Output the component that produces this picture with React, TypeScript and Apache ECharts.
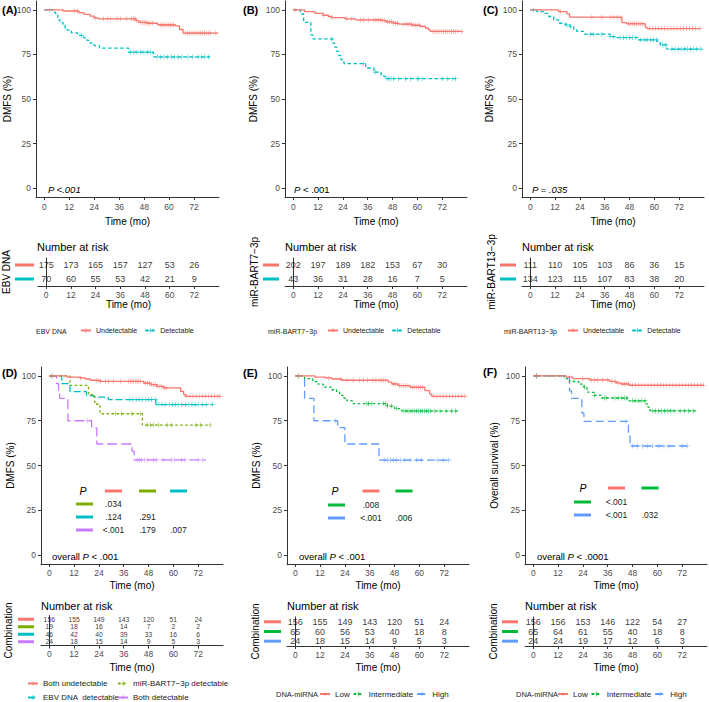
import React, { useEffect, useRef } from "react";
import * as echarts from "echarts";

const FONT = '"Liberation Sans", Arial, Helvetica, sans-serif';
const RED = "#F8766D", TEAL = "#00BFC4", OLIVE = "#7CAE00", PURPLE = "#C77CFF", GREEN = "#00BA38", BLUE = "#619CFF";
const PLUS = "path://M-0.6,-5H0.6V-0.6H5V0.6H0.6V5H-0.6V0.6H-5V-0.6H-0.6Z";

const timeTicks = [0, 12, 24, 36, 48, 60, 72];
const survTicks = [0, 25, 50, 75, 100];

// ---- Panel A: EBV DNA ----
const aUndet = [[0,100],[9,99.4],[16.5,98.5],[19,97.5],[22,96.5],[24,95.5],[26,95],[44,94],[45.5,93],[49.5,92.5],[54.5,91.6],[63,91],[65,89],[66.7,87],[83.5,87]];
const aUndetCens = [14.6,16,24.4,28.5,30.4,31.7,35,36.6,39.5,42,42.8,43.6,44.4,46.3,47.1,48,48.8,49.6,50.4,51.2,52,55.8,56.6,57.4,58.2,59,59.8,60.6,61.4,62.2,68,69,70,71,72,73,74,75,76,77,78,79,80,82.5];
const aDet = [[0,100],[4.5,98.6],[5.5,97.1],[6.5,95.7],[7,94.3],[7.5,92.9],[9,91.4],[10,90],[11,88.6],[13,87.1],[16,85.7],[19,84.3],[20.5,82.9],[22,81.4],[24,80],[26.5,78.6],[40.5,76.3],[52.5,73.6],[79.7,73.6]];
const aDetCens = [2.4,17.9,41.5,43,44.6,46.3,47.9,49.5,51.2,54.5,56,57.6,59.3,61,62.6,64.3,66,69,71.4,74,75.6,77.2,78.9];
const riskAUndet = [175,173,165,157,127,53,26];
const riskADet = [70,60,55,53,42,21,9];

// ---- Panel B: miR-BART7-3p ----
const bUndet = [[0,100],[5.5,99],[10.5,98],[14.5,97],[17,96.3],[18.6,95.7],[25,95],[30,94.4],[43,94],[45,93.3],[48.5,92.5],[51,92],[57.4,91.4],[61.5,90.7],[64,89.7],[65.5,88.8],[66.3,87.9],[81.7,87.9]];
const bUndetCens = [0.8,14.6,18.6,25.9,28.3,32.4,34,36.4,39,40,41,42,43,44,45.5,46.5,47.5,48.5,49.5,50.5,53.5,55,56,57,58,59,60,61,67.5,68.5,69.5,70.5,71.5,72.5,73.5,74.5,75.5,76.5,77.5,78.5,79.5,81.5];
const bDet = [[0,100],[3.5,97.7],[5,93],[8.5,86],[9.5,83.7],[19,81.4],[20,79.1],[21,76.7],[22,74.4],[23,72.1],[24.5,69.8],[35,67.4],[39,65.1],[42.5,62.8],[44.5,61.4],[79.5,61.4]];
const bDetCens = [18.6,34,39.6,45.3,46.3,47.3,48.5,51,54.2,56.6,59.9,60.7,62.3,72,74.4,76.8,78.5];
const riskBUndet = [202,197,189,182,153,67,30];
const riskBDet = [43,36,31,28,16,7,5];

// ---- Panel C: miR-BART13-3p ----
const cUndet = [[0,100],[13.7,99],[17.7,97.8],[19,95.9],[44.3,92.9],[46.7,92.2],[55.6,90.3],[56.4,89.5],[82,89.5]];
const cUndetCens = [14.5,29.8,34.6,39,40.5,42,43.5,47.5,48.5,49.5,50.5,51.5,52.5,53.5,54.5,57.5,59,60.5,62,63.5,65,66.5,68,69.5,71,72.5,74,75.5,77,78.5,80,82];
const cDet = [[0,100],[3.2,99],[6.4,98],[8.9,96.3],[11.3,94.4],[13.7,92.5],[16.9,91.6],[19.3,90.7],[21,89.2],[22.5,87.9],[25.8,86.4],[38.6,85],[41.9,84.5],[52.3,83.2],[61.2,82.3],[62.8,80.4],[66,78],[82.9,78]];
const cDetCens = [1.6,17.7,19.3,29,30.6,34.6,38.6,40.3,43.5,45,46.5,48,49.5,51,53.5,55,56.5,58,59.5,61,64,65.5,68.5,70,71.5,73,74.5,76,77.5,79,80.5,82.5];
const riskCUndet = [111,110,105,103,86,36,15];
const riskCDet = [134,123,115,107,83,38,20];

// ---- Panel D: Combination ----
const dBothUnd = [[0,100],[8.6,99.4],[15,98.9],[17.4,98.3],[19.9,97.6],[24.7,97],[45.7,96],[49,95.2],[52,94.2],[55.4,93.3],[63.5,91.4],[65,89.6],[66,88.6],[82.9,88.6]];
const dBothUndCens = [1.3,15,23,24.7,27.1,28.7,31.1,34.4,38.4,39.2,40,40.8,41.6,42.4,43.2,44,46.5,47.5,48.5,49.5,50.5,51.5,52.5,53.5,54.5,55.5,56.5,66.5,68,69.5,71,72.5,74,75.5,77,78.5,80,81.5,82.5];
const dMiR = [[0,100],[10,94.7],[19,89.5],[22,84.2],[24.5,78.9],[45,72.6],[77.8,72.6]];
const dMiRCens = [32,35,40,44,47.5,49,50.5,53,57,59,71,73,77.8];
const dEbv = [[0,100],[6,95.7],[10,91.3],[18,89.1],[21.5,88.2],[28.5,86.8],[51.5,84],[78.8,84]];
const dEbvCens = [1.3,39,40.5,42,43.5,45,46.5,48,49.5,51.2,53,54.5,56,58,59.5,61,62.5,64,66,67.5,69,70.5,72,74,76,78.8];
const dBothDet = [[0,100],[3.5,95.8],[4.5,91.7],[5,87.5],[9,75],[20.5,71],[23,62],[40,58],[41,53.1],[75.6,53.1]];
const dBothDetCens = [18.6,42.5,43.5,44.5,46,47.5,50.4,52,55,59,60.6,64,65.6,72,74];
const riskDBothUnd = [156,155,149,143,120,51,24];
const riskDMiR = [19,18,16,14,7,2,2];
const riskDEbv = [46,42,40,39,33,16,6];
const riskDBothDet = [24,18,15,14,9,5,3];

// ---- Panel E: DNA-miRNA (DMFS) ----
const eLow = [[0,100],[9.6,99.4],[14.5,98.9],[17.7,98.3],[22.5,97.6],[45,96.5],[46.7,95.5],[49.8,94.6],[55.5,93.7],[62.7,91.8],[65,89.9],[66,88.6],[82,88.6]];
const eLowCens = [1.5,16,22,25,28,31,33,35,37.5,39,40.5,41.5,42.5,43.5,47.5,48.5,50.5,51.5,52.5,53.5,54.5,56.5,57.5,58.5,59.5,60.5,61.5,67,68.5,70,71.5,73,74.5,76,77.5,79,80.5,82];
const eInt = [[0,100],[4.5,98.5],[8.5,96.9],[11,95.4],[13.5,93.8],[17.5,92.3],[20,90.8],[21.5,89.2],[23.5,87.7],[25,86.2],[27.5,84.6],[44.5,83.2],[48,81.8],[51.5,80.4],[78.5,80.4]];
const eIntCens = [1.6,34.6,35.5,37,42.6,43.5,44.5,46.6,49,52.5,53.5,54.5,55.5,56.5,57.5,58.5,59.5,60.5,61.5,62.5,63.5,64.5,65.5,67.5,70,73,75.5,77.5];
const eHigh = [[0,100],[4.5,87.5],[9,75],[20.5,71.1],[24,62],[40.5,53],[75.5,53]];
const eHighCens = [19.3,43,44.5,46,47.5,49,51,53,55.5,58.5,61,69,71.5,74];
const riskELow = [156,155,149,143,120,51,24];
const riskEInt = [65,60,56,53,40,18,8];
const riskEHigh = [24,18,15,14,9,5,3];

// ---- Panel F: DNA-miRNA (OS) ----
const fLow = [[0,100],[16,99.3],[19.2,98.5],[27.2,97.8],[36.8,97],[40,96.1],[42.4,95.5],[46.4,94.8],[82.4,94.8]];
const fLowCens = [1.6,24,28,29.6,31.2,33.6,36,38,39.5,41,43,44,45,46,48,49.5,51,52.5,54,55.5,57,58.5,60,61.5,63,64.5,66,67.5,69,70.5,72,73.5,75,76.5,78,79.5,81,82.4];
const fInt = [[0,100],[15,98.5],[17.5,96.9],[22,95.4],[24.5,93.8],[26,92.3],[26.5,90.8],[29.5,89.2],[33,87.7],[45.5,86.1],[54.5,84.4],[55.5,82.5],[56.5,80.5],[78.4,80.5]];
const fIntCens = [1.6,24.8,29.6,34.4,35.2,39.5,41,42.5,44,45,48,49.5,51,52.5,54,57.5,59,60.5,62,63.5,65,66.5,68,71,73,75,77.5];
const fHigh = [[0,100],[17.5,91.7],[18.5,87.5],[23.5,79.2],[24.5,74.6],[46,66.5],[46.8,60.9],[75.2,60.9]];
const fHighCens = [1.6,44.8,48,50.4,52.8,55.2,57.6,60.8,63.2,65.6,72,74.4];
const riskFLow = [156,156,153,146,122,54,27];
const riskFInt = [65,64,61,55,40,18,8];
const riskFHigh = [24,24,19,17,12,6,3];

// ---- P-value tables ----
const pTableD = [[".034"], [".124", ".291"], ["<.001", ".179", ".007"]];
const pTableE = [[".008"], ["<.001", ".006"]];
const pTableF = [["<.001"], ["<.001", ".032"]];

type Group = { name: string; color: string; dash: any; curve: number[][]; censor: number[]; risk: number[] };

const panels: any[] = [
  { tag: "(A)", yTitle: "DMFS (%)", stratum: "EBV DNA", pText: "{i|P <.001}", groups: [
    { name: "Undetectable", color: RED, dash: "solid", curve: aUndet, censor: aUndetCens, risk: riskAUndet },
    { name: "Detectable", color: TEAL, dash: [3.5, 2.5], curve: aDet, censor: aDetCens, risk: riskADet } ] },
  { tag: "(B)", yTitle: "DMFS (%)", stratum: "miR-BART7\u22123p", pText: "{i|P} < .001", groups: [
    { name: "Undetectable", color: RED, dash: "solid", curve: bUndet, censor: bUndetCens, risk: riskBUndet },
    { name: "Detectable", color: TEAL, dash: [3.5, 2.5], curve: bDet, censor: bDetCens, risk: riskBDet } ] },
  { tag: "(C)", yTitle: "DMFS (%)", stratum: "miR-BART13\u22123p", pText: "{i|P = .035}", groups: [
    { name: "Undetectable", color: RED, dash: "solid", curve: cUndet, censor: cUndetCens, risk: riskCUndet },
    { name: "Detectable", color: TEAL, dash: [3.5, 2.5], curve: cDet, censor: cDetCens, risk: riskCDet } ] },
  { tag: "(D)", yTitle: "DMFS (%)", stratum: "Combination", pText: "overall {i|P} < .001", table: pTableD, groups: [
    { name: "Both undetectable", color: RED, dash: "solid", curve: dBothUnd, censor: dBothUndCens, risk: riskDBothUnd },
    { name: "miR-BART7\u22123p detectable", color: OLIVE, dash: [2.5, 2.5], curve: dMiR, censor: dMiRCens, risk: riskDMiR },
    { name: "EBV DNA  detectable", color: TEAL, dash: [7, 3], curve: dEbv, censor: dEbvCens, risk: riskDEbv },
    { name: "Both detectable", color: PURPLE, dash: [10, 4], curve: dBothDet, censor: dBothDetCens, risk: riskDBothDet } ] },
  { tag: "(E)", yTitle: "DMFS (%)", stratum: "Combination", pText: "overall {i|P} < .001", table: pTableE, groups: [
    { name: "Low", color: RED, dash: "solid", curve: eLow, censor: eLowCens, risk: riskELow },
    { name: "Intermediate", color: GREEN, dash: [2.5, 2.5], curve: eInt, censor: eIntCens, risk: riskEInt },
    { name: "High", color: BLUE, dash: [8, 4], curve: eHigh, censor: eHighCens, risk: riskEHigh } ] },
  { tag: "(F)", yTitle: "Overall survival (%)", stratum: "Combination", pText: "overall {i|P} < .0001", table: pTableF, groups: [
    { name: "Low", color: RED, dash: "solid", curve: fLow, censor: fLowCens, risk: riskFLow },
    { name: "Intermediate", color: GREEN, dash: [2.5, 2.5], curve: fInt, censor: fIntCens, risk: riskFInt },
    { name: "High", color: BLUE, dash: [8, 4], curve: fHigh, censor: fHighCens, risk: riskFHigh } ] },
];

// layout (pixels)
const layout = [
  { left: 36, top: 1, w: 183, h: 196, yGap: 24, xGap: 19, xM: 5, rTop: 258, rH: 28, rGap: 27, rxGap: 13, rxM: 4, barW: 19, barM: 4, rFont: 9, rLH: 12, tagX: 2, tagY: 10, nX: 37, nY: 247, pX: 48, pY: 189 },
  { left: 285, top: 1, w: 182, h: 196, yGap: 27, xGap: 19, xM: 5, rTop: 258, rH: 28, rGap: 26, rxGap: 13, rxM: 4, barW: 16, barM: 6, rFont: 9, rLH: 12, tagX: 243, tagY: 10, nX: 285, nY: 247, pX: 294, pY: 189 },
  { left: 522, top: 1, w: 182, h: 196, yGap: 28, xGap: 19, xM: 5, rTop: 258, rH: 28, rGap: 24, rxGap: 13, rxM: 4, barW: 16, barM: 6, rFont: 9, rLH: 12, tagX: 483, tagY: 10, nX: 522, nY: 247, pX: 532, pY: 189 },
  { left: 41, top: 367, w: 182, h: 197, yGap: 26, xGap: 16, xM: 4.5, rTop: 615.5, rH: 30, rGap: 28, rxGap: 16.5, rxM: 4, barW: 16, barM: 7, rFont: 6.8, rLH: 7, tagX: 2, tagY: 373, nX: 41, nY: 606, pX: 52, pY: 556,
    tbl: { pX: 83, hY: 491, hXs: [113.5, 147.5, 178.5], rX: 84.5, rYs: [504, 517, 530] } },
  { left: 287, top: 367, w: 182, h: 197, yGap: 26, xGap: 16, xM: 4.5, rTop: 617, rH: 29, rGap: 27, rxGap: 16, rxM: 4, barW: 17, barM: 6, rFont: 9, rLH: 9.5, tagX: 243, tagY: 373, nX: 287, nY: 606, pX: 299, pY: 556,
    tbl: { pX: 335, hY: 491, hXs: [371, 404], rX: 336.5, rYs: [505, 518] } },
  { left: 525, top: 367, w: 182, h: 197, yGap: 26, xGap: 16, xM: 4.5, rTop: 617, rH: 29, rGap: 25, rxGap: 16, rxM: 4, barW: 16, barM: 7, rFont: 9, rLH: 9.5, tagX: 483, tagY: 372, nX: 525, nY: 606, pX: 537, pY: 556,
    tbl: { pX: 583, hY: 488, hXs: [616.5, 650], rX: 582.5, rYs: [502, 515] } },
];

function survAt(curve: number[][], t: number) {
  let v = curve[0][1];
  for (const p of curve) { if (p[0] <= t) v = p[1]; else break; }
  return v;
}

const AXIS_COLOR = "#333333";
const TICK_TEXT = "#4d4d4d";

function txt(x: number, y: number, text: string, o: any = {}) {
  const size = o.size || 10;
  return {
    type: "text", x, y, silent: true, z: 100,
    style: {
      text, fill: o.fill || "#1a1a1a", fontSize: size, fontFamily: FONT,
      fontWeight: o.weight || "normal", fontStyle: o.italic ? "italic" : "normal",
      align: o.align || "left", textAlign: o.align || "left",
      verticalAlign: "middle", textVerticalAlign: "middle",
      rich: o.rich,
    },
  };
}
function dash(x1: number, x2: number, y: number, color: string) {
  return { type: "line", silent: true, z: 100, shape: { x1, y1: y, x2, y2: y }, style: { stroke: color, lineWidth: 3 } };
}

function buildOption() {
  const grid: any[] = [], xAxis: any[] = [], yAxis: any[] = [], series: any[] = [], graphic: any[] = [];
  const n = panels.length;
  panels.forEach((p, i) => {
    const L: any = layout[i];
    grid[i] = { left: L.left, top: L.top, width: L.w, height: L.h };
    grid[i + n] = { left: L.left, top: L.rTop, width: L.w, height: L.rH };
    const xBase = (gi: number, margin: number, gap: number) => ({
      gridIndex: gi, type: "value", min: -4, max: 84,
      axisLine: { show: true, onZero: false, lineStyle: { color: AXIS_COLOR, width: 1 } },
      axisTick: { show: true, length: 3, customValues: timeTicks, lineStyle: { color: AXIS_COLOR } },
      axisLabel: { customValues: timeTicks, fontSize: 8.5, color: TICK_TEXT, margin, fontFamily: FONT },
      splitLine: { show: false },
      name: "Time (mo)", nameLocation: "middle", nameGap: gap,
      nameTextStyle: { fontSize: 10, color: "#000", fontFamily: FONT },
    });
    xAxis[i] = xBase(i, L.xM, L.xGap);
    xAxis[i + n] = xBase(i + n, L.rxM, L.rxGap);
    yAxis[i] = {
      gridIndex: i, type: "value", min: -5, max: 105,
      axisLine: { show: true, onZero: false, lineStyle: { color: AXIS_COLOR, width: 1 } },
      axisTick: { show: true, length: 3, customValues: survTicks, lineStyle: { color: AXIS_COLOR } },
      axisLabel: { customValues: survTicks, fontSize: 8.5, color: TICK_TEXT, margin: 5, fontFamily: FONT },
      splitLine: { show: false },
      name: p.yTitle, nameLocation: "middle", nameGap: L.yGap,
      nameTextStyle: { fontSize: 10, color: "#000", fontFamily: FONT },
    };
    const rich: any = {};
    p.groups.forEach((g: Group, k: number) => {
      rich["b" + k] = { backgroundColor: g.color, width: L.barW, height: 3, lineHeight: 3, fontSize: 1 };
    });
    const names = p.groups.map((g: Group) => g.name);
    yAxis[i + n] = {
      gridIndex: i + n, type: "category", data: names, inverse: true,
      axisLine: { show: true, lineStyle: { color: AXIS_COLOR, width: 1 } },
      axisTick: { show: false },
      axisLabel: { interval: 0, margin: L.barM, formatter: (v: string) => `{b${names.indexOf(v)}| }`, rich },
      splitLine: { show: false },
      name: p.stratum, nameLocation: "middle", nameGap: L.rGap,
      nameTextStyle: { fontSize: 10, color: "#000", fontFamily: FONT },
    };

    p.groups.forEach((g: Group, k: number) => {
      series.push({
        type: "line", name: g.name, xAxisIndex: i, yAxisIndex: i, data: g.curve, step: "end",
        showSymbol: false, symbol: PLUS, symbolSize: 6, silent: true, z: 5 - k,
        lineStyle: { color: g.color, width: 1.3, type: g.dash },
        itemStyle: { color: g.color },
      });
      series.push({
        type: "scatter", name: `${p.tag}-cens-${k}`, xAxisIndex: i, yAxisIndex: i,
        data: g.censor.map((t) => [t, survAt(g.curve, t)]),
        symbol: PLUS, symbolSize: 5, silent: true, z: 5 - k,
        itemStyle: { color: g.color },
      });
      series.push({
        type: "scatter", name: `${p.tag}-risk-${k}`, xAxisIndex: i + n, yAxisIndex: i + n,
        data: g.risk.map((v, j) => [timeTicks[j], g.name, v]),
        symbol: "circle", symbolSize: 1, silent: true,
        itemStyle: { color: "rgba(0,0,0,0)" },
        label: { show: true, position: "inside", formatter: (q: any) => String(q.value[2]), fontSize: L.rFont, lineHeight: L.rLH, color: "#000", fontFamily: FONT },
      });
    });

    graphic.push(txt(L.tagX, L.tagY, p.tag, { size: 11, weight: "bold", fill: "#000" }));
    graphic.push(txt(L.nX, L.nY, "Number at risk", { size: 11, fill: "#000" }));
    graphic.push(txt(L.pX, L.pY, p.pText, { size: 9.5, fill: "#000", rich: { i: { fontStyle: "italic", fontSize: 9.5, fontFamily: FONT, fill: "#000" } } }));

    if (p.table && L.tbl) {
      const T = L.tbl;
      graphic.push(txt(T.pX, T.hY, "P", { size: 10.5, italic: true, align: "center", fill: "#000" }));
      for (let c = 0; c < p.table.length; c++) {
        graphic.push(dash(T.hXs[c] - 8.5, T.hXs[c] + 8.5, T.hY, p.groups[c].color));
      }
      p.table.forEach((row: string[], r: number) => {
        graphic.push(dash(T.rX - 8.5, T.rX + 8.5, T.rYs[r], p.groups[r + 1].color));
        row.forEach((v, c) => graphic.push(txt(T.hXs[c], T.rYs[r], v, { size: 8.5, align: "center", fill: "#222" })));
      });
    }
  });

  // legends
  const legBase = { padding: 0, itemWidth: 10, itemHeight: 6, selectedMode: false, textStyle: { fontFamily: FONT, color: "#222" } };
  const legend = [
    { ...legBase, left: 80, top: 327, itemGap: 7, data: ["Undetectable", "Detectable"], textStyle: { ...legBase.textStyle, fontSize: 7 } },
    { ...legBase, left: 327, top: 327, itemGap: 7, data: ["Undetectable", "Detectable"], textStyle: { ...legBase.textStyle, fontSize: 7 } },
    { ...legBase, left: 567, top: 327, itemGap: 7, data: ["Undetectable", "Detectable"], textStyle: { ...legBase.textStyle, fontSize: 7 } },
    { ...legBase, left: 27, top: 679.5, orient: "vertical", itemGap: 6, data: ["Both undetectable", "EBV DNA  detectable"], textStyle: { ...legBase.textStyle, fontSize: 8 } },
    { ...legBase, left: 117, top: 679.5, orient: "vertical", itemGap: 6, data: ["miR-BART7\u22123p detectable", "Both detectable"], textStyle: { ...legBase.textStyle, fontSize: 8 } },
    { ...legBase, left: 319, top: 690, itemGap: 3, data: ["Low", "Intermediate", "High"], textStyle: { ...legBase.textStyle, fontSize: 8 } },
    { ...legBase, left: 557, top: 690, itemGap: 3, data: ["Low", "Intermediate", "High"], textStyle: { ...legBase.textStyle, fontSize: 8 } },
  ];
  graphic.push(txt(36, 331, "EBV DNA", { size: 7, fill: "#222" }));
  graphic.push(txt(268, 331, "miR-BART7\u22123p", { size: 7, fill: "#222" }));
  graphic.push(txt(504, 331, "miR-BART13\u22123p", { size: 7, fill: "#222" }));
  graphic.push(txt(276, 694, "DNA-miRNA", { size: 7.5, fill: "#222" }));
  graphic.push(txt(516, 694, "DNA-miRNA", { size: 7.5, fill: "#222" }));

  return {
    animation: false,
    backgroundColor: "#ffffff",
    textStyle: { fontFamily: FONT },
    grid, xAxis, yAxis, series, legend, graphic,
  };
}

export default function App() {
  const ref = useRef<HTMLDivElement>(null);
  useEffect(() => {
    if (!ref.current) return;
    const chart = echarts.init(ref.current, undefined, { renderer: "svg" });
    chart.setOption(buildOption() as any);
    return () => chart.dispose();
  }, []);
  return <div ref={ref} style={{ position: "fixed", left: 0, top: 0, width: 709, height: 702, background: "#fff" }} />;
}
